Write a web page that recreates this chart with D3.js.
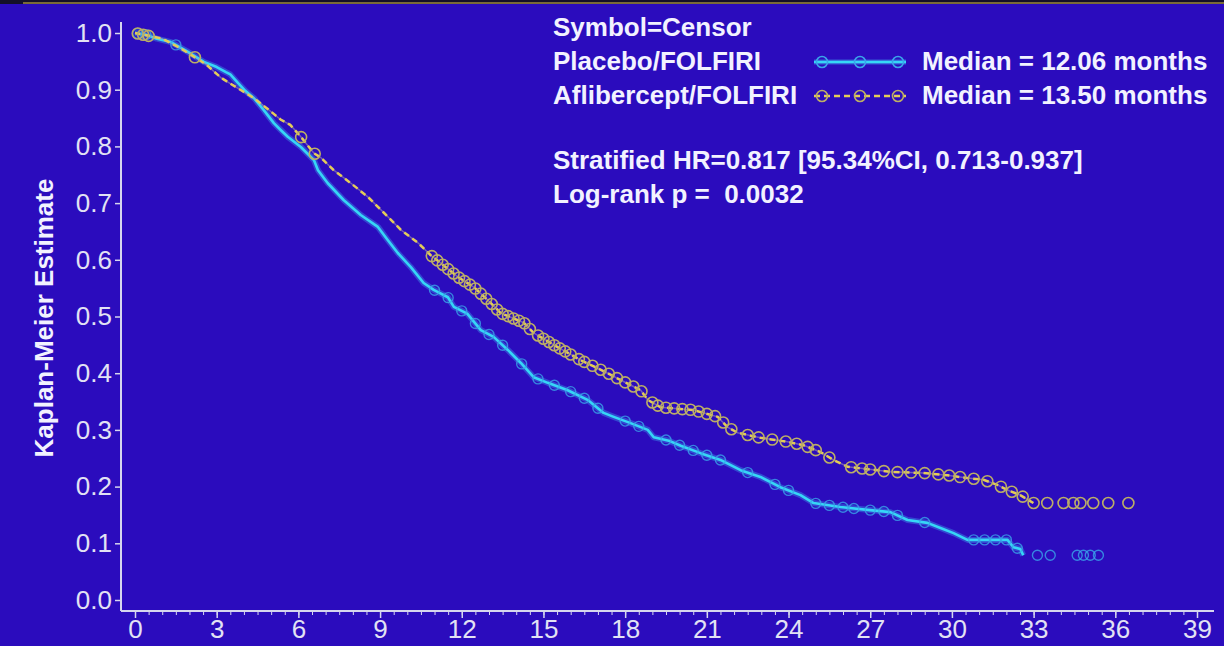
<!DOCTYPE html>
<html>
<head>
<meta charset="utf-8">
<script src="https://cdn.jsdelivr.net/npm/d3@7"></script>
<style>
  html, body { margin: 0; padding: 0; background: #2b0cbd; }
  svg { display: block; font-family: "Liberation Sans", Arial, sans-serif; }
  .txt { fill: #f2f2ff; font-weight: bold; font-size: 26px; white-space: pre; }
  .tick text { fill: #e2e2f4; }
</style>
</head>
<body>
<svg id="chart" width="1224" height="646"></svg>
<script>
// Kaplan-Meier curves: [months, estimate]
const placebo = [
  [0, 1.0], [0.4, 0.997], [0.8, 0.99], [1.32, 0.984], [1.9, 0.968], [2.53, 0.949],
  [3.0, 0.94], [3.34, 0.931], [3.5, 0.927], [3.78, 0.912], [4.05, 0.898], [4.37, 0.885],
  [4.73, 0.864], [5.1, 0.841], [5.35, 0.829], [5.61, 0.817], [6.09, 0.799], [6.57, 0.776],
  [6.72, 0.758], [7.08, 0.735], [7.67, 0.705], [8.29, 0.679], [8.92, 0.658], [9.28, 0.635],
  [9.65, 0.612], [10.13, 0.587], [10.6, 0.559], [10.97, 0.547], [11.49, 0.534], [11.71, 0.517],
  [12.2, 0.505], [12.7, 0.476], [13.17, 0.464], [13.69, 0.441], [14.17, 0.418], [14.64, 0.393],
  [15.16, 0.383], [15.89, 0.37], [16.62, 0.353], [17.21, 0.33], [17.58, 0.323], [18.2, 0.312],
  [18.83, 0.3], [19.05, 0.287], [19.6, 0.281], [20.04, 0.272], [20.77, 0.259], [21.5, 0.247],
  [22.24, 0.229], [22.97, 0.217], [23.7, 0.199], [24.44, 0.185], [24.92, 0.171], [25.9, 0.164],
  [26.9, 0.159], [27.74, 0.155], [28.37, 0.141], [29.1, 0.136], [29.58, 0.127], [30.06, 0.118],
  [30.57, 0.106], [32.04, 0.106], [32.26, 0.093], [32.51, 0.09], [32.62, 0.079]
];
const aflibercept = [
  [0, 1.0], [0.5, 0.995], [1.0, 0.99], [1.6, 0.975], [1.94, 0.965], [2.6, 0.945],
  [3.16, 0.921], [3.8, 0.902], [4.37, 0.885], [4.9, 0.865], [5.36, 0.847], [5.7, 0.838],
  [6.09, 0.817], [6.57, 0.788], [6.83, 0.78], [7.3, 0.758], [7.93, 0.735], [8.55, 0.711],
  [9.14, 0.683], [9.76, 0.653], [10.39, 0.63], [10.86, 0.608], [11.23, 0.594], [11.85, 0.57],
  [12.44, 0.552], [13.06, 0.524], [13.43, 0.506], [14.28, 0.489], [14.64, 0.471], [15.52, 0.446],
  [16.37, 0.423], [17.36, 0.4], [17.83, 0.388], [18.57, 0.37], [18.83, 0.353], [19.3, 0.34],
  [20.5, 0.335], [21.4, 0.323], [21.76, 0.305], [22.13, 0.295], [22.97, 0.286], [23.96, 0.279],
  [24.55, 0.273], [25.17, 0.261], [25.65, 0.247], [26.17, 0.235], [27.74, 0.226], [28.95, 0.224],
  [29.83, 0.22], [30.57, 0.215], [31.16, 0.212], [31.67, 0.203], [32.04, 0.194], [32.51, 0.185],
  [32.99, 0.171]
];

// censoring times (months)
const placeboCensor = [
  0.1, 0.4, 1.5, 11.0, 11.5, 12.0, 12.5, 13.0, 13.5, 14.2, 14.8, 15.4, 16.0, 16.5, 17.0,
  18.0, 18.5, 19.5, 20.0, 20.5, 21.0, 21.5, 22.5, 23.5, 24.0, 25.0, 25.5, 26.0, 26.4, 27.0,
  27.5, 28.0, 29.0, 30.8, 31.2, 31.6, 32.0, 32.4, 33.14, 33.61, 34.6, 34.83, 35.08, 35.38
];
const afliberceptCensor = [
  0.1, 0.3, 0.5, 2.2, 6.1, 6.6, 10.9, 11.1, 11.3, 11.5, 11.7, 11.9, 12.1, 12.3, 12.5, 12.7,
  12.9, 13.1, 13.3, 13.5, 13.7, 13.9, 14.1, 14.3, 14.5, 14.8, 15.0, 15.2, 15.4, 15.6, 15.8,
  16.0, 16.3, 16.5, 16.8, 17.1, 17.4, 17.7, 18.0, 18.3, 18.6, 19.0, 19.2, 19.5, 19.8, 20.1,
  20.4, 20.7, 21.0, 21.3, 21.6, 21.9, 22.5, 22.9, 23.4, 23.9, 24.3, 24.7, 25.0, 25.5, 26.3,
  26.7, 27.0, 27.5, 28.0, 28.5, 29.0, 29.5, 29.9, 30.3, 30.8, 31.3, 31.8, 32.2, 32.6, 33.0,
  33.5, 34.1, 34.46, 34.72, 35.19, 35.74, 36.48
];

const xTicks = d3.range(0, 40, 3);
const yTicks = d3.range(0, 11).map(d => d / 10);
const legendLines = ["Symbol=Censor", "Placebo/FOLFIRI", "Aflibercept/FOLFIRI"];
const medians = ["Median = 12.06 months", "Median = 13.50 months"];
const stats = ["Stratified HR=0.817 [95.34%CI, 0.713-0.937]", "Log-rank p =  0.0032"];

const CYAN = "#36d6f6", CYAN_MARK = "#3aa4ea";
const YEL = "#e4cc58", YEL_MARK = "#bcae66";

const svg = d3.select("#chart");

// top strip of the slide
svg.append("rect").attr("x", 0).attr("y", 0).attr("width", 1224).attr("height", 4).attr("fill", "#141028");
svg.append("line").attr("x1", 23).attr("x2", 1224).attr("y1", 3).attr("y2", 3)
  .attr("stroke", "#9c8a3c").attr("stroke-width", 1.5);

const x = d3.scaleLinear().domain([0, 39]).range([135, 1197]);
const y = d3.scaleLinear().domain([0, 1]).range([600, 33]);

const AX = "#d6d6ee";
const axisY = 611, axisX = 121;

// axes lines
svg.append("line").attr("x1", axisX).attr("x2", axisX).attr("y1", 22).attr("y2", axisY)
  .attr("stroke", AX).attr("stroke-width", 2);
svg.append("line").attr("x1", axisX).attr("x2", 1214).attr("y1", axisY).attr("y2", axisY)
  .attr("stroke", AX).attr("stroke-width", 2);

// y axis ticks
const gy = svg.append("g").attr("transform", `translate(${axisX},0)`)
  .call(d3.axisLeft(y).tickValues(yTicks).tickFormat(d3.format(".1f")).tickSize(6).tickPadding(3));
gy.select(".domain").remove();
gy.selectAll(".tick line").attr("stroke", AX).attr("stroke-width", 1.5);
gy.selectAll(".tick text").attr("font-size", 26).attr("font-family", "Liberation Sans, Arial, sans-serif");

// x axis: minor ticks every half month, majors every 3
const gxm = svg.append("g").attr("transform", `translate(0,${axisY})`)
  .call(d3.axisBottom(x).tickValues(d3.range(0, 39.01, 0.5)).tickFormat("").tickSize(4));
gxm.select(".domain").remove();
gxm.selectAll(".tick line").attr("stroke", AX).attr("stroke-width", 1);

const gx = svg.append("g").attr("transform", `translate(0,${axisY})`)
  .call(d3.axisBottom(x).tickValues(xTicks).tickFormat(d3.format("d")).tickSize(7).tickPadding(2));
gx.select(".domain").remove();
gx.selectAll(".tick line").attr("stroke", AX).attr("stroke-width", 1.5);
gx.selectAll(".tick text").attr("font-size", 26).attr("font-family", "Liberation Sans, Arial, sans-serif");

// y label
svg.append("text")
  .attr("class", "txt")
  .attr("transform", "translate(53,318) rotate(-90)")
  .attr("text-anchor", "middle")
  .attr("font-size", 24)
  .text("Kaplan-Meier Estimate");

// curves
const line = d3.line().x(d => x(d[0])).y(d => y(d[1])).curve(d3.curveLinear);

// estimate at time t along the drawn curve (flat after the last point)
function survAt(data, t) {
  const last = data[data.length - 1];
  if (t >= last[0]) return last[1];
  const i = d3.bisector(d => d[0]).right(data, t);
  if (i <= 0) return data[0][1];
  const a = data[i - 1], b = data[i];
  return a[1] + (b[1] - a[1]) * (t - a[0]) / (b[0] - a[0]);
}

// placebo: solid cyan with a soft glow
svg.append("path").attr("d", line(placebo)).attr("fill", "none")
  .attr("stroke", "#3f9ff0").attr("stroke-width", 6).attr("stroke-opacity", 0.4)
  .attr("stroke-linejoin", "round");
svg.append("path").attr("d", line(placebo)).attr("fill", "none")
  .attr("stroke", CYAN).attr("stroke-width", 2.6).attr("stroke-linejoin", "round");

// aflibercept: dashed yellow
svg.append("path").attr("d", line(aflibercept)).attr("fill", "none")
  .attr("stroke", "#b8a8b0").attr("stroke-width", 1.5).attr("stroke-opacity", 0.5);
svg.append("path").attr("d", line(aflibercept)).attr("fill", "none")
  .attr("stroke", YEL).attr("stroke-width", 2.5).attr("stroke-dasharray", "6,4");

// censor marks
svg.append("g").selectAll("circle").data(placeboCensor).join("circle")
  .attr("cx", d => x(d)).attr("cy", d => y(survAt(placebo, d)))
  .attr("r", 5).attr("fill", "none").attr("stroke", CYAN_MARK).attr("stroke-width", 1.4)
  .attr("stroke-opacity", 0.8);
svg.append("g").selectAll("circle").data(afliberceptCensor).join("circle")
  .attr("cx", d => x(d)).attr("cy", d => y(survAt(aflibercept, d)))
  .attr("r", 5.5).attr("fill", "none").attr("stroke", YEL_MARK).attr("stroke-width", 1.6);

// legend
const leg = svg.append("g");
leg.selectAll("text.lab").data(legendLines).join("text")
  .attr("class", "txt lab")
  .attr("x", 553).attr("y", (d, i) => 36 + i * 34)
  .text(d => d);
leg.selectAll("text.med").data(medians).join("text")
  .attr("class", "txt med")
  .attr("x", 922).attr("y", (d, i) => 70 + i * 34)
  .text(d => d);
leg.selectAll("text.stat").data(stats).join("text")
  .attr("class", "txt stat")
  .attr("x", 553).attr("y", (d, i) => 169 + i * 34)
  .text(d => d);

// legend symbols
const symX = [822, 860, 898];
leg.append("line").attr("x1", 814).attr("x2", 906).attr("y1", 62).attr("y2", 62)
  .attr("stroke", "#3fa0f0").attr("stroke-width", 5).attr("stroke-opacity", 0.5);
leg.append("line").attr("x1", 814).attr("x2", 906).attr("y1", 62).attr("y2", 62)
  .attr("stroke", CYAN).attr("stroke-width", 2.5);
leg.selectAll("circle.c1").data(symX).join("circle").attr("class", "c1")
  .attr("cx", d => d).attr("cy", 62).attr("r", 5.5)
  .attr("fill", "none").attr("stroke", CYAN_MARK).attr("stroke-width", 1.6);
leg.append("line").attr("x1", 814).attr("x2", 906).attr("y1", 96).attr("y2", 96)
  .attr("stroke", YEL).attr("stroke-width", 2.5).attr("stroke-dasharray", "6,4");
leg.selectAll("circle.c2").data(symX).join("circle").attr("class", "c2")
  .attr("cx", d => d).attr("cy", 96).attr("r", 5.5)
  .attr("fill", "none").attr("stroke", YEL_MARK).attr("stroke-width", 1.6);
</script>
</body>
</html>
